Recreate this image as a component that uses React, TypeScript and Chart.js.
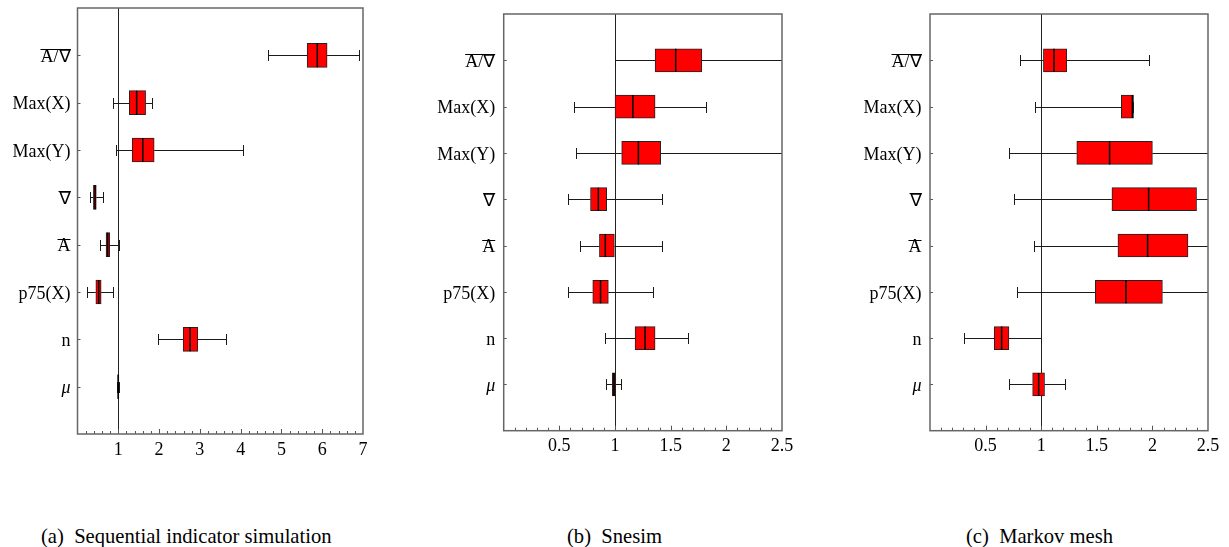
import React, { useEffect, useRef } from 'react';
import { Chart, registerables } from 'chart.js';

Chart.register(...registerables);

const FONT = "'Liberation Serif', 'Times New Roman', serif";

// Categories (top to bottom)
const categories = ['A/∇', 'Max(X)', 'Max(Y)', '∇', 'A', 'p75(X)', 'n', 'μ'];
const overlined = ['A/∇', '∇', 'A'];

// (a) Sequential indicator simulation
const sisLow = [4.66, 0.88, 0.95, 0.31, 0.55, 0.24, 1.98, 0.98];
const sisQ1 = [5.63, 1.27, 1.34, 0.39, 0.7, 0.45, 2.59, 0.985];
const sisMedian = [5.88, 1.45, 1.6, 0.43, 0.74, 0.52, 2.76, 1.0];
const sisQ3 = [6.12, 1.67, 1.88, 0.46, 0.79, 0.58, 2.95, 1.01];
const sisHigh = [6.89, 1.83, 4.06, 0.62, 1.02, 0.88, 3.65, 1.02];
const sisTicks = [1, 2, 3, 4, 5, 6, 7];

// (b) Snesim
const snLow = [1.0, 0.63, 0.65, 0.58, 0.686, 0.58, 0.91, 0.92];
const snQ1 = [1.36, 1.0, 1.06, 0.78, 0.86, 0.8, 1.18, 0.976];
const snMedian = [1.545, 1.16, 1.21, 0.85, 0.913, 0.87, 1.27, 0.99];
const snQ3 = [1.78, 1.36, 1.41, 0.925, 0.994, 0.94, 1.36, 1.0];
const snHigh = [2.8, 1.82, 2.7, 1.425, 1.425, 1.34, 1.66, 1.05];
const snTicks = [0.5, 1, 1.5, 2, 2.5];

// (c) Markov mesh
const mmLow = [0.81, 0.947, 0.707, 0.755, 0.938, 0.78, 0.309, 0.707];
const mmQ1 = [1.02, 1.72, 1.32, 1.636, 1.69, 1.486, 0.578, 0.923];
const mmMedian = [1.115, 1.82, 1.615, 1.966, 1.957, 1.762, 0.644, 0.977];
const mmQ3 = [1.23, 1.83, 2.0, 2.397, 2.32, 2.09, 0.71, 1.03];
const mmHigh = [1.966, 1.83, 2.9, 2.8, 2.7, 2.75, 1.0, 1.217];
const mmTicks = [0.5, 1, 1.5, 2, 2.5];

const captions = ['(a)  Sequential indicator simulation', '(b)  Snesim', '(c)  Markov mesh'];

type PanelCfg = {
  left: number;
  width: number;
  axisWidth: number;
  labelPad: number;
  top: number;
  bottom: number;
  rightPad: number;
  boxH: number;
  max: number;
  minorStep: number;
  majorTicks: number[];
  low: number[];
  q1: number[];
  med: number[];
  q3: number[];
  high: number[];
};

const H = 470;
const LABEL_SHIFT = 2;

const panels: PanelCfg[] = [
  { left: 0, width: 380, axisWidth: 77.5, labelPad: 7, top: 8, bottom: 434, rightPad: 17, boxH: 24, max: 7, minorStep: 0.2, majorTicks: sisTicks, low: sisLow, q1: sisQ1, med: sisMedian, q3: sisQ3, high: sisHigh },
  { left: 420, width: 380, axisWidth: 83.7, labelPad: 8.5, top: 14, bottom: 430.7, rightPad: 18, boxH: 23, max: 2.5, minorStep: 0.1, majorTicks: snTicks, low: snLow, q1: snQ1, med: snMedian, q3: snQ3, high: snHigh },
  { left: 840, width: 389, axisWidth: 90, labelPad: 8.5, top: 14, bottom: 430.7, rightPad: 21, boxH: 23, max: 2.5, minorStep: 0.1, majorTicks: mmTicks, low: mmLow, q1: mmQ1, med: mmMedian, q3: mmQ3, high: mmHigh },
];

const captionLefts = [41, 567, 966];

function isMajor(p: PanelCfg, v: number) {
  return p.majorTicks.some((m) => Math.abs(m - v) < 1e-6);
}

function Panel({ p }: { p: PanelCfg }) {
  const ref = useRef<HTMLCanvasElement | null>(null);
  useEffect(() => {
    if (!ref.current) return;
    const rowLabels = ['', ...categories, ''];
    const boxData: any[] = [null, ...categories.map((_, i) => [p.q1[i], p.q3[i]]), null];

    const extras = {
      id: 'boxExtras',
      beforeDatasetsDraw(chart: any) {
        const { ctx, chartArea: a, scales } = chart;
        const x = scales.x;
        const x1 = Math.round(x.getPixelForValue(1)) + 0.5;
        ctx.save();
        ctx.strokeStyle = '#222';
        ctx.lineWidth = 1;
        ctx.beginPath();
        ctx.moveTo(x1, a.top);
        ctx.lineTo(x1, a.bottom);
        ctx.stroke();
        ctx.restore();
      },
      afterDatasetsDraw(chart: any) {
        const { ctx, chartArea: a, scales } = chart;
        const x = scales.x;
        const y = scales.y;
        ctx.save();
        ctx.beginPath();
        ctx.rect(a.left, a.top, a.right - a.left, a.bottom - a.top);
        ctx.clip();
        ctx.strokeStyle = '#1a1a1a';
        ctx.lineWidth = 1;
        categories.forEach((_, i) => {
          const yc = Math.round(y.getPixelForValue(i + 1)) + 0.5;
          const xl = Math.round(x.getPixelForValue(p.low[i])) + 0.5;
          const xq1 = x.getPixelForValue(p.q1[i]);
          const xq3 = x.getPixelForValue(p.q3[i]);
          const xh = Math.round(x.getPixelForValue(p.high[i])) + 0.5;
          ctx.beginPath();
          ctx.moveTo(xl, yc);
          ctx.lineTo(xq1, yc);
          ctx.moveTo(xq3, yc);
          ctx.lineTo(xh, yc);
          ctx.moveTo(xl, yc - 5.5);
          ctx.lineTo(xl, yc + 5.5);
          ctx.moveTo(xh, yc - 5.5);
          ctx.lineTo(xh, yc + 5.5);
          ctx.stroke();
        });
        ctx.strokeStyle = '#000';
        ctx.lineWidth = 1.5;
        categories.forEach((_, i) => {
          const yc = y.getPixelForValue(i + 1);
          const xm = x.getPixelForValue(p.med[i]);
          ctx.beginPath();
          ctx.moveTo(xm, yc - p.boxH / 2);
          ctx.lineTo(xm, yc + p.boxH / 2);
          ctx.stroke();
        });
        ctx.restore();
      },
      afterDraw(chart: any) {
        const { ctx, chartArea: a, scales } = chart;
        const x = scales.x;
        const y = scales.y;
        ctx.save();
        // inner tick marks
        ctx.strokeStyle = '#555';
        ctx.lineWidth = 1;
        ctx.beginPath();
        x.ticks.forEach((t: any) => {
          const v = t.value;
          if (v <= 1e-9 || v >= p.max - 1e-9) return;
          const px = Math.round(x.getPixelForValue(v)) + 0.5;
          const len = isMajor(p, v) ? 5 : 3;
          ctx.moveTo(px, a.bottom);
          ctx.lineTo(px, a.bottom - len);
        });
        categories.forEach((_, i) => {
          const py = Math.round(y.getPixelForValue(i + 1)) + 0.5;
          ctx.moveTo(a.left, py);
          ctx.lineTo(a.left + 3, py);
        });
        ctx.stroke();
        // frame
        ctx.strokeStyle = '#666';
        ctx.lineWidth = 1.5;
        ctx.strokeRect(a.left, a.top, a.right - a.left, a.bottom - a.top);
        // overlines on labels
        ctx.font = `18px ${FONT}`;
        ctx.strokeStyle = '#000';
        ctx.lineWidth = 1;
        categories.forEach((lab, i) => {
          if (!overlined.includes(lab)) return;
          const w = ctx.measureText(lab).width;
          const xr = y.right - p.labelPad;
          const py = Math.round(y.getPixelForValue(i + 1) + LABEL_SHIFT - 8) + 0.5;
          ctx.beginPath();
          ctx.moveTo(xr - w, py);
          ctx.lineTo(xr, py);
          ctx.stroke();
        });
        ctx.restore();
      },
    };

    const chart = new Chart(ref.current, {
      type: 'bar',
      data: {
        labels: rowLabels,
        datasets: [
          {
            data: boxData,
            backgroundColor: '#ff0000',
            borderColor: '#222',
            borderWidth: 1,
            borderSkipped: false,
            barThickness: p.boxH,
          } as any,
        ],
      },
      options: {
        indexAxis: 'y',
        animation: false,
        responsive: false,
        events: [],
        layout: { padding: { top: p.top, right: p.rightPad, left: 0, bottom: 0 } },
        plugins: { legend: { display: false }, tooltip: { enabled: false } },
        scales: {
          x: {
            type: 'linear',
            min: 0,
            max: p.max,
            grid: { display: false, drawTicks: false, tickLength: 0 },
            border: { display: false },
            ticks: {
              stepSize: p.minorStep,
              autoSkip: false,
              minRotation: 0,
              maxRotation: 0,
              padding: 5,
              color: '#000',
              font: { family: FONT, size: 18 },
              callback: (v: any) => {
                const m = p.majorTicks.find((mm) => Math.abs(mm - Number(v)) < 1e-6);
                return m === undefined ? '' : String(m);
              },
            },
            afterFit: (s: any) => {
              s.height = H - p.bottom;
              s.paddingLeft = 0;
              s.paddingRight = 0;
            },
          },
          y: {
            type: 'category',
            offset: false,
            grid: { display: false, drawTicks: false, tickLength: 0 },
            border: { display: false },
            ticks: {
              autoSkip: false,
              padding: p.labelPad,
              labelOffset: LABEL_SHIFT,
              color: '#000',
              font: (c: any) => ({
                family: FONT,
                size: 18,
                style: c.tick && c.tick.label === 'μ' ? 'italic' : 'normal',
              }),
            },
            afterFit: (s: any) => {
              s.width = p.axisWidth;
              s.paddingTop = 0;
              s.paddingBottom = 0;
            },
          },
        },
      } as any,
      plugins: [extras],
    });
    return () => chart.destroy();
  }, [p]);

  return (
    <canvas
      ref={ref}
      width={p.width}
      height={H}
      style={{ position: 'absolute', left: p.left, top: 0, width: p.width, height: H }}
    />
  );
}

export default function App() {
  return (
    <div style={{ position: 'absolute', left: 0, top: 0, width: 1229, height: 547, background: '#fff', overflow: 'hidden' }}>
      {panels.map((p, i) => (
        <Panel key={i} p={p} />
      ))}
      {captions.map((c, i) => (
        <div
          key={c}
          style={{
            position: 'absolute',
            left: captionLefts[i],
            top: 526,
            fontFamily: FONT,
            fontSize: 20.6,
            lineHeight: '20px',
            whiteSpace: 'pre',
            color: '#000',
          }}
        >
          {c}
        </div>
      ))}
    </div>
  );
}
